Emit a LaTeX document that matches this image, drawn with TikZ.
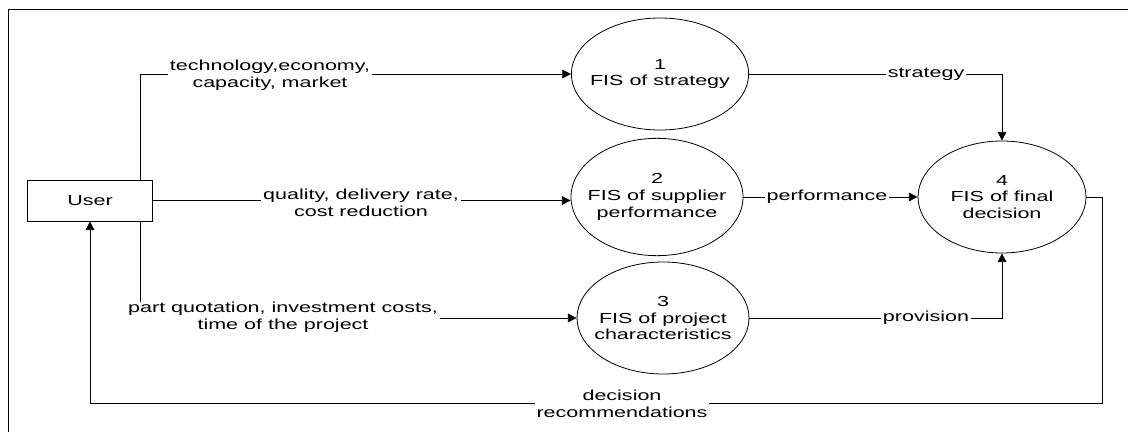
\documentclass[tikz,border=0pt]{standalone}
\usepackage{fontspec}
\setmainfont{Liberation Sans}[FakeStretch=1.48]
\usetikzlibrary{shapes.geometric, arrows.meta}
\tikzset{
  >={Triangle[length=6.5pt, width=6.5pt]},
  every node/.style={font=\fontsize{10.9}{12.5}\selectfont},
  actor/.style={draw, rectangle, minimum width=94pt, minimum height=30.75pt},
  fis/.style={draw, ellipse, align=center, inner xsep=-8pt, inner ysep=0pt,
    minimum width=129pt, minimum height=84pt},
  flowlabel/.style={fill=white, align=center, inner xsep=1.5pt, inner ysep=0pt},
}
\begin{document}
\begin{tikzpicture}[x=0.75pt, y=-0.75pt, line width=0.6pt]
  \useasboundingbox (0,0) rectangle (1128,432);
  % frame
  \draw (8,432) -- (8,9) -- (1128,9);

  % user and inference systems
  \node[actor] (user) at (90,200.5) {User};
  \node[fis, minimum width=133pt] (fis1) at (660,74) {1\\FIS of strategy};
  \node[fis, minimum height=88pt] (fis2) at (657,197) {2\\FIS of supplier\\performance};
  \node[fis] (fis3) at (663,318) {3\\FIS of project\\characteristics};
  \node[fis, minimum width=126pt] (fis4) at (1002,197) {4\\FIS of final\\decision};
  \coordinate (loopcorner) at (1102,403.5);

  % flows
  \draw[->] ([xshift=-9.4pt]user.north east) |- (fis1);
  \draw[->] (user.east) -- (user.east -| fis2.west);
  \draw[->] ([xshift=-9.4pt]user.south east) |- (fis3);
  \draw[->] (fis1) -| (fis4);
  \draw[->] (fis2) -- (fis4);
  \draw[->] (fis3) -| (fis4);
  \draw[->] (fis4.east) -| (loopcorner) -| (user.south);

  % flow labels
  \node[flowlabel] (techlbl) at (270,75) {technology,economy,\\capacity, market};
  \node[flowlabel] (qualitylbl) at (361,203) {quality, delivery rate,\\cost reduction};
  \node[flowlabel] (partlbl) at (283,317.5) {part quotation, investment costs,\\time of the project};
  \node[flowlabel] (stratlbl) at (926,74) {strategy};
  \node[flowlabel] (perflbl) at (827,197) {performance};
  \node[flowlabel] (provlbl) at (926,318) {provision};
  \node[flowlabel] (declbl) at (622,403.5) {decision\\recommendations};
\end{tikzpicture}
\end{document}
